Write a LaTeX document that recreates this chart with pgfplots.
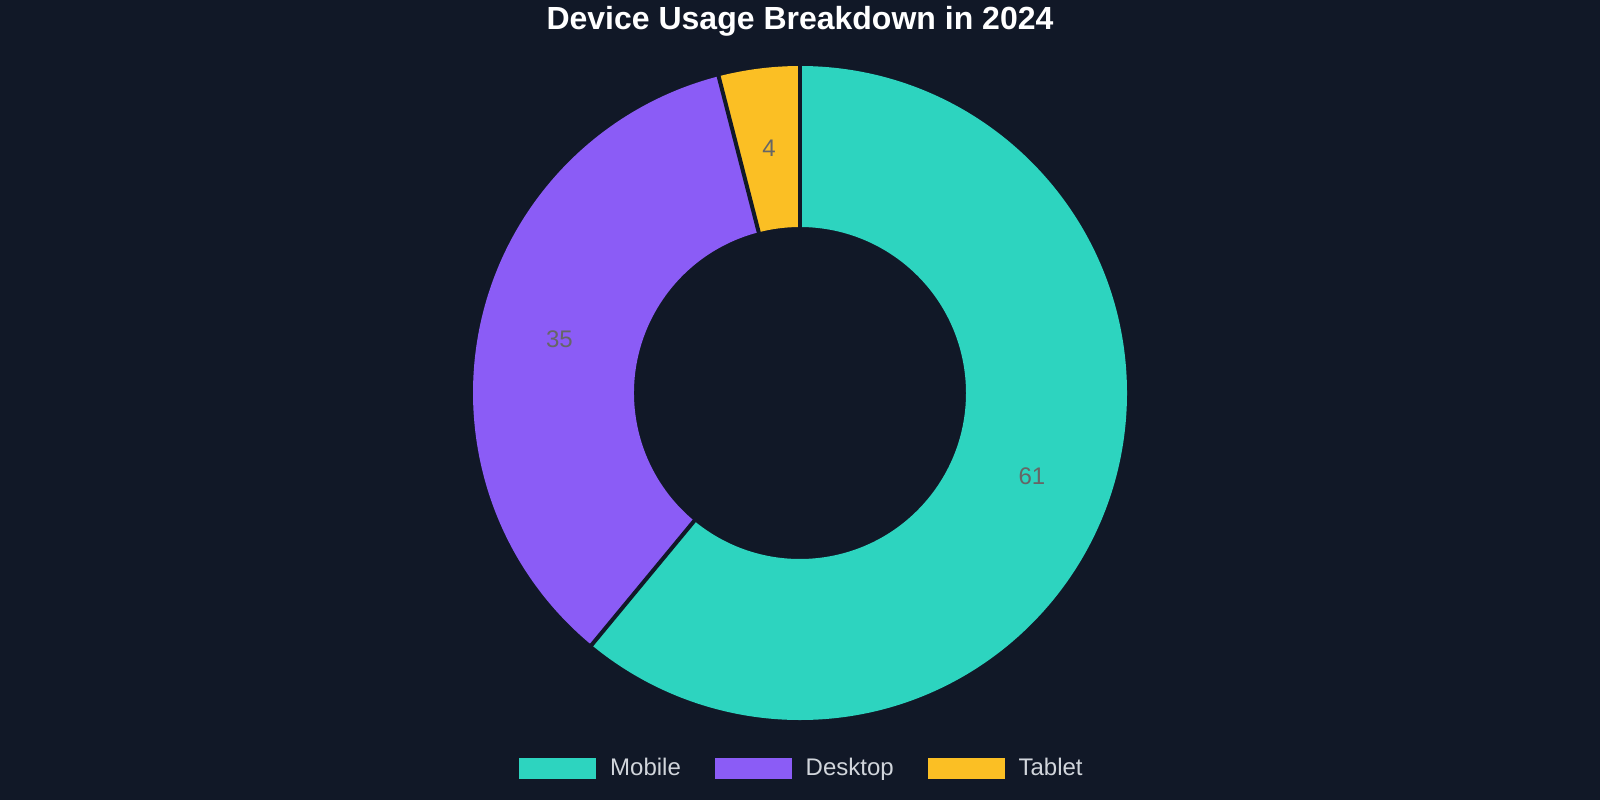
\documentclass[border=0pt]{standalone}
\usepackage{pgfplots}
\usepackage{pgfplotstable}
\pgfplotsset{compat=1.18}
\usepackage{fontspec}
\setmainfont{Liberation Sans}

\definecolor{bg}{HTML}{111827}
\definecolor{mobile}{HTML}{2DD4BF}
\definecolor{desktop}{HTML}{8B5CF6}
\definecolor{tablet}{HTML}{FBBF24}
\definecolor{lblgray}{HTML}{666666}
\definecolor{leggray}{HTML}{D1D5DB}
\pagecolor{bg}

% device usage share, 2024
\pgfplotstableread{
device value
Mobile 61
Desktop 35
Tablet 4
}\devicedata

\begin{document}
\begin{tikzpicture}
\pgfplotstablegetelem{0}{value}\of\devicedata\let\vA\pgfplotsretval
\pgfplotstablegetelem{1}{value}\of\devicedata\let\vB\pgfplotsretval
\pgfplotstablegetelem{2}{value}\of\devicedata\let\vC\pgfplotsretval
\pgfmathsetmacro\tot{\vA+\vB+\vC}
% slice boundaries, clockwise from the top
\pgfmathsetmacro\aA{90}
\pgfmathsetmacro\aB{\aA-360*(\vA/\tot)}
\pgfmathsetmacro\aC{\aB-360*(\vB/\tot)}
\pgfmathsetmacro\aD{\aC-360*(\vC/\tot)}
\pgfmathsetmacro\mA{(\aA+\aB)/2}
\pgfmathsetmacro\mB{(\aB+\aC)/2}
\pgfmathsetmacro\mC{(\aC+\aD)/2}
% radii in axis units (1 unit = 0.5pt)
\def\Ro{327}
\def\Ri{166}
\def\Rm{246.5}
\def\Ropt{163.5pt}
\def\Ript{83pt}
\begin{axis}[
    scale only axis,
    width=800pt, height=400pt,
    xmin=-800, xmax=800,
    ymin=-407, ymax=393,
    hide axis,
    xtick=\empty, ytick=\empty,
    legend style={
        at={(axis cs:1,-375)}, anchor=center,
        draw=none, fill=none,
        text=leggray,
        font=\fontsize{12}{14}\selectfont,
        nodes={inner sep=0pt},
        /tikz/every odd column/.append style={column sep=7pt},
        /tikz/every even column/.append style={column sep=17pt},
    },
    legend columns=3,
]
\fill[bg] (rel axis cs:0,0) rectangle (rel axis cs:1,1);

\fill[mobile] (axis cs:{\Ro*cos(\aA)},{\Ro*sin(\aA)})
    arc[start angle=\aA, end angle=\aB, radius=\Ropt]
    -- (axis cs:{\Ri*cos(\aB)},{\Ri*sin(\aB)})
    arc[start angle=\aB, end angle=\aA, radius=\Ript] -- cycle;
\fill[desktop] (axis cs:{\Ro*cos(\aB)},{\Ro*sin(\aB)})
    arc[start angle=\aB, end angle=\aC, radius=\Ropt]
    -- (axis cs:{\Ri*cos(\aC)},{\Ri*sin(\aC)})
    arc[start angle=\aC, end angle=\aB, radius=\Ript] -- cycle;
\fill[tablet] (axis cs:{\Ro*cos(\aC)},{\Ro*sin(\aC)})
    arc[start angle=\aC, end angle=\aD, radius=\Ropt]
    -- (axis cs:{\Ri*cos(\aD)},{\Ri*sin(\aD)})
    arc[start angle=\aD, end angle=\aC, radius=\Ript] -- cycle;

% slice borders
\draw[bg, line width=2pt] (axis cs:{(\Ri-6)*cos(\aA)},{(\Ri-6)*sin(\aA)}) -- (axis cs:{(\Ro+6)*cos(\aA)},{(\Ro+6)*sin(\aA)});
\draw[bg, line width=2pt] (axis cs:{(\Ri-6)*cos(\aB)},{(\Ri-6)*sin(\aB)}) -- (axis cs:{(\Ro+6)*cos(\aB)},{(\Ro+6)*sin(\aB)});
\draw[bg, line width=2pt] (axis cs:{(\Ri-6)*cos(\aC)},{(\Ri-6)*sin(\aC)}) -- (axis cs:{(\Ro+6)*cos(\aC)},{(\Ro+6)*sin(\aC)});

\node[lblgray, font=\fontsize{12}{14}\selectfont] at (axis cs:{\Rm*cos(\mA)},{\Rm*sin(\mA)}) {\vA};
\node[lblgray, font=\fontsize{12}{14}\selectfont] at (axis cs:{\Rm*cos(\mB)},{\Rm*sin(\mB)}) {\vB};
\node[lblgray, font=\fontsize{12}{14}\selectfont] at (axis cs:{\Rm*cos(\mC)},{\Rm*sin(\mC)}) {\vC};

\node[white, font=\bfseries\fontsize{16}{19}\selectfont, anchor=base] at (axis cs:0,363) {Device Usage Breakdown in 2024};

\addlegendimage{legend image code/.code={\fill[mobile] (0pt,-5pt) rectangle (38pt,5pt);}}
\addlegendentry{Mobile}
\addlegendimage{legend image code/.code={\fill[desktop] (0pt,-5pt) rectangle (38pt,5pt);}}
\addlegendentry{Desktop}
\addlegendimage{legend image code/.code={\fill[tablet] (0pt,-5pt) rectangle (38pt,5pt);}}
\addlegendentry{Tablet}
\end{axis}
\end{tikzpicture}
\end{document}
